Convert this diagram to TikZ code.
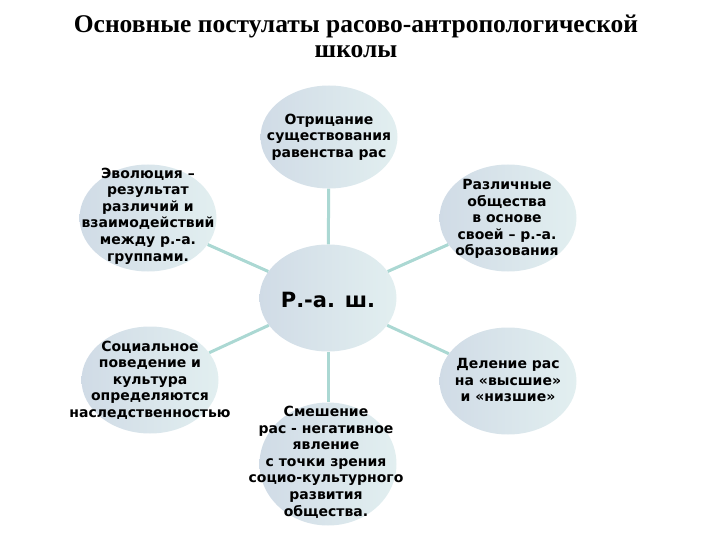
\documentclass[tikz,border=0pt]{standalone}
\usepackage{fontspec}
\setmainfont{DejaVu Sans}
\newfontfamily\titlefont{Liberation Serif}
\usepackage{tikz}
\usetikzlibrary{shapes.geometric}
\definecolor{ellleft}{HTML}{D0DBE6}
\definecolor{ellright}{HTML}{E2EFF0}
\definecolor{linkcol}{HTML}{ABD8D3}

\begin{document}
\begin{tikzpicture}[x=1pt,y=-1pt,
    postulat/.style={ellipse,inner sep=0pt,minimum width=137pt,minimum height=107pt,
      left color=ellleft,right color=ellright},
    posttext/.style={align=center,inner sep=0pt,font=\fontsize{14}{16.6}\selectfont\bfseries},
    link/.style={draw=linkcol,line width=3pt}]
    \useasboundingbox (0,0) rectangle (720,540);
    \node[font=\titlefont\fontsize{25.5}{25}\selectfont\bfseries,align=center] (title) at (356,36)
      {Основные постулаты расово-антропологической\\школы};
    % ellipses
    \node[postulat] (center) at (328,298) {};
    \node[postulat,minimum height=103pt] (negation) at (329,137) {};
    \node[postulat] (evolution) at (148,218) {};
    \node[postulat] (societies) at (508,218) {};
    \node[postulat] (behaviour) at (150,380) {};
    \node[postulat] (division) at (508,381) {};
    \node[postulat,minimum height=123pt] (mixing) at (328,464) {};
    \foreach \n in {negation,evolution,societies,behaviour,division,mixing}
    {
      \draw[link] (center) -- (\n);
    }
    % texts
    \node[posttext] at (negation) {Отрицание\\существования\\равенства рас};
    \node[posttext] at (148,216) {Эволюция --\\результат\\различий и\\взаимодействий\\между р.-а.\\группами.};
    \node[posttext] at (507,219) {Различные\\общества\\в основе\\своей -- р.-а.\\образования};
    \node[posttext] at (150,380) {Социальное\\поведение и\\культура\\определяются\\наследственностью};
    \node[posttext] at (508,380) {Деление рас\\на «высшие»\\и «низшие»};
    \node[posttext] at (326,462) {Смешение\\рас - негативное\\явление\\с точки зрения\\социо-культурного\\развития\\общества.};
    \node[font=\fontsize{21}{24}\selectfont\bfseries] (label) at (328,300) {Р.-а. ш.};
  \end{tikzpicture}
\end{document}
